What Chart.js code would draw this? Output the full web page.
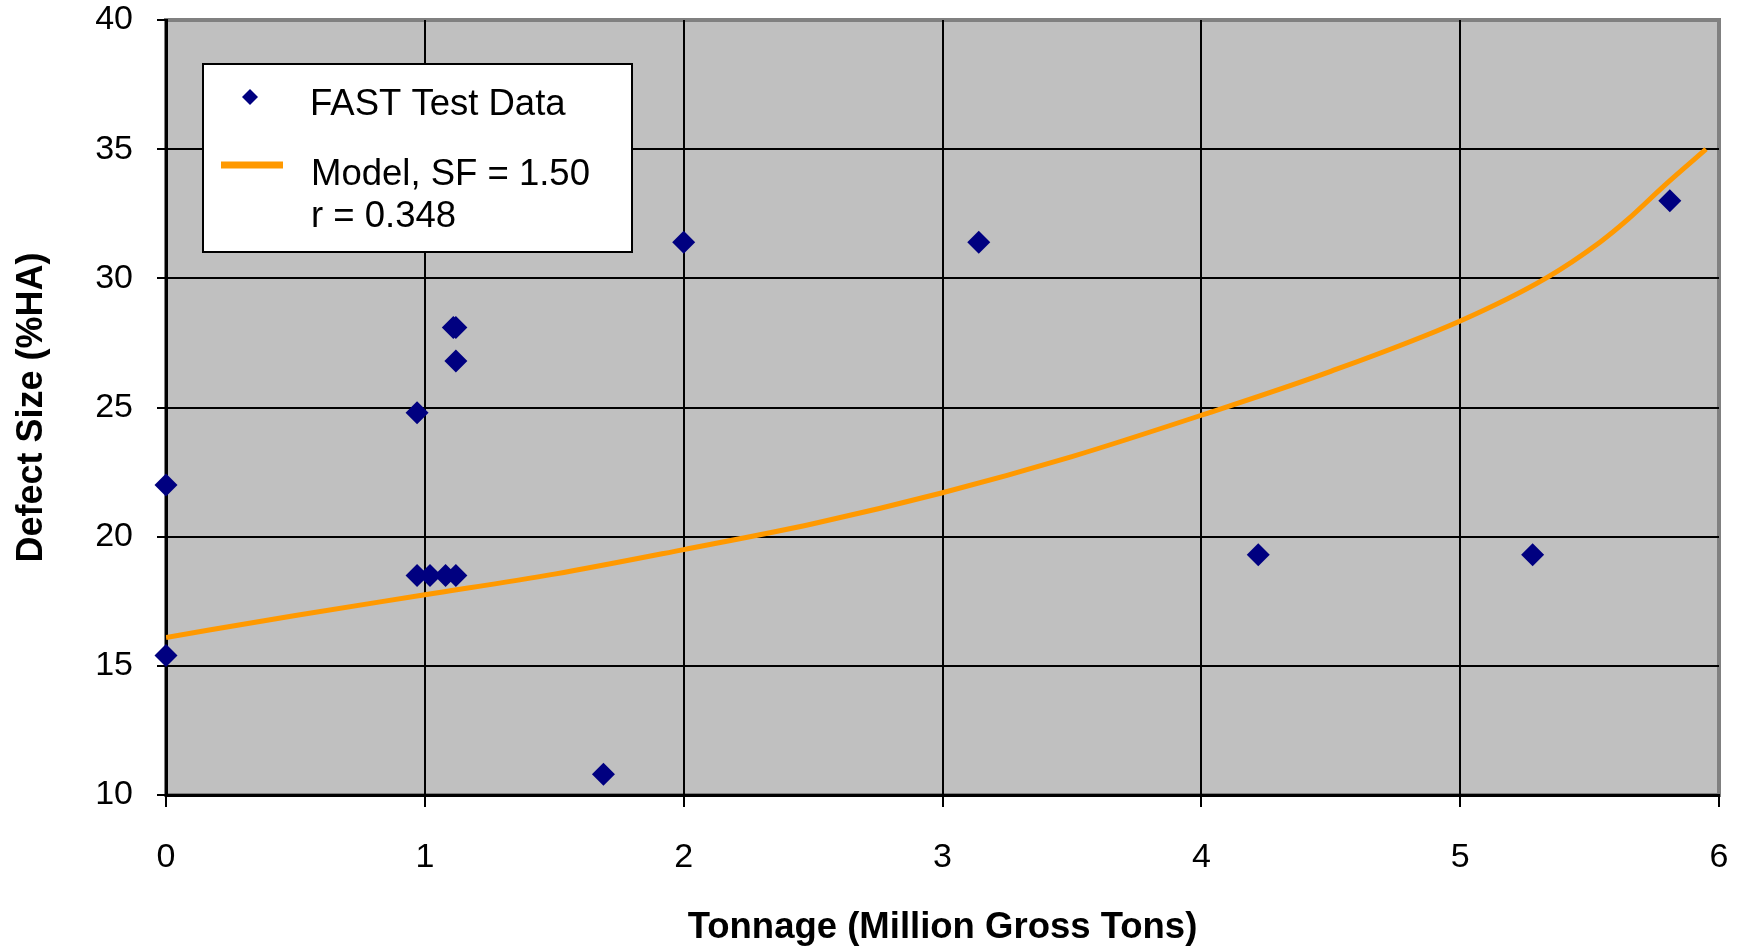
<!DOCTYPE html>
<html>
<head>
<meta charset="utf-8">
<title>Defect Size vs Tonnage</title>
<script src="https://cdn.jsdelivr.net/npm/chart.js@4/dist/chart.umd.min.js"></script>
<style>
    html, body { margin: 0; padding: 0; background: #fff; }
    #wrap { width: 1754px; height: 950px; }
</style>
</head>
<body>
<div id="wrap"><canvas id="defectChart" width="1754" height="950"></canvas></div>
<script>
// FAST test data (tonnage in MGT, defect size in %HA)
var testTonnage = [0, 0, 0.97, 0.97, 1.02, 1.08, 1.12, 1.11, 1.12, 1.12, 1.69, 2.0, 3.14, 4.22, 5.28, 5.81];
var testDefect = [22.0, 15.4, 24.8, 18.5, 18.5, 18.5, 18.5, 28.1, 28.1, 26.8, 10.8, 31.4, 31.4, 19.3, 19.3, 33.0];

// model curve
var modelTonnage = [0, 0.5, 1, 1.5, 2, 2.5, 3, 3.5, 4, 4.5, 5, 5.33, 5.54, 5.65, 5.79, 5.95];
var modelDefect = [16.1, 16.95, 17.75, 18.55, 19.5, 20.5, 21.7, 23.1, 24.7, 26.4, 28.35, 30.0, 31.4, 32.3, 33.6, 35.0];

var xTicks = [0, 1, 2, 3, 4, 5, 6];
var yTicks = [10, 15, 20, 25, 30, 35, 40];

var testLabel = 'FAST Test Data';
var modelLabel = ['Model, SF = 1.50', 'r = 0.348'];

let DefectChart = function () {
    const FONT = "'Liberation Sans', Arial, sans-serif";

    let toPoints = function (xs, ys) {
        return xs.map(function (x, i) { return { x: x, y: ys[i] }; });
    };

    // grey plot background + grey frame
    let plotBg = {
        id: 'plotBg',
        beforeDraw: function (chart) {
            const a = chart.chartArea, ctx = chart.ctx;
            ctx.save();
            ctx.fillStyle = '#C0C0C0';
            ctx.fillRect(a.left, a.top, a.right - a.left, a.bottom - a.top);
            ctx.strokeStyle = '#808080';
            ctx.lineWidth = 4;
            ctx.strokeRect(a.left, a.top, a.right - a.left, a.bottom - a.top);
            ctx.restore();
        }
    };

    // boxed legend inside the plot, top left
    let boxLegend = {
        id: 'boxLegend',
        afterDatasetsDraw: function (chart) {
            const ctx = chart.ctx;
            const pts = chart.data.datasets[1];
            const line = chart.data.datasets[0];
            ctx.save();
            ctx.fillStyle = '#fff';
            ctx.fillRect(203, 64, 429, 188);
            ctx.strokeStyle = '#000';
            ctx.lineWidth = 2;
            ctx.strokeRect(203, 64, 429, 188);

            Chart.helpers.drawPoint(ctx, {
                pointStyle: 'rectRot', radius: 8, borderWidth: 0
            }, 250, 97);
            ctx.fillStyle = pts.backgroundColor;
            ctx.fill();

            ctx.strokeStyle = line.borderColor;
            ctx.lineWidth = 7;
            ctx.beginPath();
            ctx.moveTo(221, 165);
            ctx.lineTo(283, 165);
            ctx.stroke();

            ctx.fillStyle = '#000';
            ctx.font = '36.5px ' + FONT;
            ctx.textBaseline = 'middle';
            ctx.textAlign = 'left';
            ctx.fillText(testLabel, 310, 105);
            ctx.fillText(modelLabel[0], 311, 175);
            ctx.fillText(modelLabel[1], 311, 217);
            ctx.restore();
        }
    };

    let _DefectChart = function () {
        var chartData = {
            datasets: [
                {
                    label: modelLabel.join(' '),
                    data: toPoints(modelTonnage, modelDefect),
                    showLine: true,
                    borderColor: '#FF9900',
                    borderWidth: 5,
                    pointRadius: 0,
                    cubicInterpolationMode: 'monotone',
                    order: 1
                },
                {
                    label: testLabel,
                    data: toPoints(testTonnage, testDefect),
                    pointStyle: 'rectRot',
                    pointRadius: 11.5,
                    pointBorderWidth: 0,
                    backgroundColor: '#000080',
                    borderColor: '#000080',
                    clip: false,
                    order: 2
                }
            ]
        };

        var chartOptions = {
            responsive: false,
            animation: false,
            layout: { padding: { left: 0, right: 35, top: 20, bottom: 0 } },
            plugins: {
                legend: { display: false },
                tooltip: { enabled: false }
            },
            scales: {
                x: {
                    type: 'linear',
                    min: 0,
                    max: 6,
                    afterBuildTicks: function (scale) {
                        scale.ticks = xTicks.map(function (v) { return { value: v }; });
                    },
                    afterFit: function (scale) {
                        scale.height = 155;
                        scale.paddingLeft = 0;
                        scale.paddingRight = 0;
                    },
                    grid: {
                        color: function (c) { return c.tick && c.tick.value === 6 ? 'transparent' : '#000'; },
                        lineWidth: 2,
                        tickLength: 12,
                        tickColor: '#000',
                        tickWidth: 2
                    },
                    border: { color: '#000', width: 3 },
                    ticks: {
                        color: '#000',
                        padding: 30,
                        font: { family: FONT, size: 34 }
                    },
                    title: {
                        display: true,
                        text: 'Tonnage (Million Gross Tons)',
                        color: '#000',
                        padding: { top: 0, bottom: 0 },
                        font: { family: FONT, size: 36.5, weight: 'bold' }
                    }
                },
                y: {
                    type: 'linear',
                    min: 10,
                    max: 40,
                    afterBuildTicks: function (scale) {
                        scale.ticks = yTicks.map(function (v) { return { value: v }; });
                    },
                    afterFit: function (scale) {
                        scale.width = 166;
                        scale.paddingTop = 0;
                        scale.paddingBottom = 0;
                    },
                    grid: {
                        color: function (c) { return c.tick && c.tick.value === 40 ? 'transparent' : '#000'; },
                        lineWidth: 2,
                        tickLength: 9,
                        tickColor: '#000',
                        tickWidth: 2
                    },
                    border: { color: '#000', width: 3 },
                    ticks: {
                        color: '#000',
                        padding: 24,
                        font: { family: FONT, size: 34 }
                    },
                    title: {
                        display: true,
                        text: 'Defect Size (%HA)',
                        color: '#000',
                        padding: { top: 10, bottom: 0 },
                        font: { family: FONT, size: 36, weight: 'bold' }
                    }
                }
            }
        };

        var ctx = document.getElementById('defectChart').getContext('2d');
        new Chart(ctx, { type: 'scatter', data: chartData, options: chartOptions, plugins: [plotBg, boxLegend] });
    };

    return {
        init: () => {
            _DefectChart();
        }
    }
}();

document.addEventListener('DOMContentLoaded', function () {
    DefectChart.init();
});
</script>
</body>
</html>
